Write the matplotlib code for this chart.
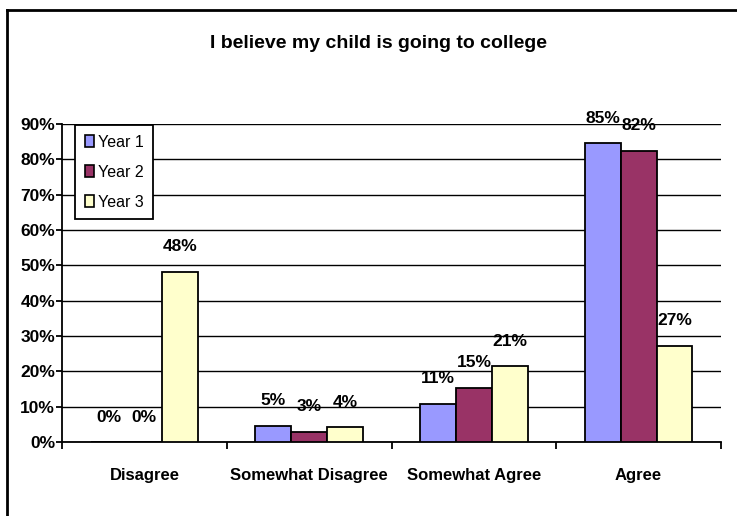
import numpy as np
import matplotlib.pyplot as plt
from matplotlib.lines import Line2D

# survey responses, percent of parents per year
categories = ['Disagree', 'Somewhat Disagree', 'Somewhat Agree', 'Agree']
year1 = [0, 4.6, 10.8, 84.6]
year2 = [0, 2.9, 15.4, 82.4]
year3 = [48.2, 4.2, 21.4, 27.3]
series_names = ['Year 1', 'Year 2', 'Year 3']
colors = ['#9999FF', '#993366', '#FFFFCC']
yticks = [0, 10, 20, 30, 40, 50, 60, 70, 80, 90]

fnt = ['Liberation Sans Narrow', 'Liberation Sans', 'DejaVu Sans']
plt.rcParams['font.family'] = fnt

fig = plt.figure(figsize=(7.37, 5.16), dpi=100)
ax = fig.add_axes([62/737, 74/516, 659/737, 318/516])

x = np.arange(len(categories)) + 0.5
w = 0.218
for i, vals in enumerate([year1, year2, year3]):
    bars = ax.bar(x + (i - 1) * w, vals, w, color=colors[i], edgecolor='black',
                  linewidth=1.3, label=series_names[i], zorder=3)
    for b, v in zip(bars, vals):
        ax.annotate('%.0f%%' % v, (b.get_x() + b.get_width() / 2, v),
                    xytext=(0, 18), textcoords='offset points',
                    ha='center', va='center', fontsize=12.5, fontweight='bold',
                    zorder=4)

ax.set_xlim(0, 4)
ax.set_ylim(0, 90)
ax.set_yticks(yticks)
ax.set_yticklabels(['%d%%' % t for t in yticks], fontsize=12.5, fontweight='bold')
ax.yaxis.grid(True, color='black', linewidth=1.0, zorder=0)

ax.set_xticks([0, 1, 2, 3, 4])
ax.set_xticklabels([])
ax.set_xticks(x, minor=True)
ax.set_xticklabels(categories, minor=True, fontsize=12, fontweight='bold')
ax.tick_params(axis='x', which='major', length=5, width=1.3, direction='out')
ax.tick_params(axis='x', which='minor', length=0, pad=19)
ax.tick_params(axis='y', length=4, width=1.3, direction='out', pad=1)

for s in ['top', 'right']:
    ax.spines[s].set_visible(False)
for s in ['left', 'bottom']:
    ax.spines[s].set_linewidth(1.3)

leg = ax.legend(loc='upper left', bbox_to_anchor=(0.02, 0.997), fontsize=11.5,
                frameon=True, fancybox=False, framealpha=1, edgecolor='black',
                handlelength=0.55, handleheight=0.75, handletextpad=0.25,
                borderpad=0.6, labelspacing=0.95, borderaxespad=0)
leg.get_frame().set_linewidth(1.3)
for h in leg.legend_handles:
    h.set_linewidth(1.2)

fig.text(378/737, 1 - 43/516, 'I believe my child is going to college',
         ha='center', va='center', fontsize=14, fontweight='bold')

# outer chart frame (top and left edges)
fig.add_artist(Line2D([7/737, 1.0], [1 - 10/516, 1 - 10/516], color='black',
                      linewidth=2, transform=fig.transFigure))
fig.add_artist(Line2D([7/737, 7/737], [0, 1 - 10/516], color='black',
                      linewidth=2, transform=fig.transFigure))

fig.savefig('out.png', dpi=100)
